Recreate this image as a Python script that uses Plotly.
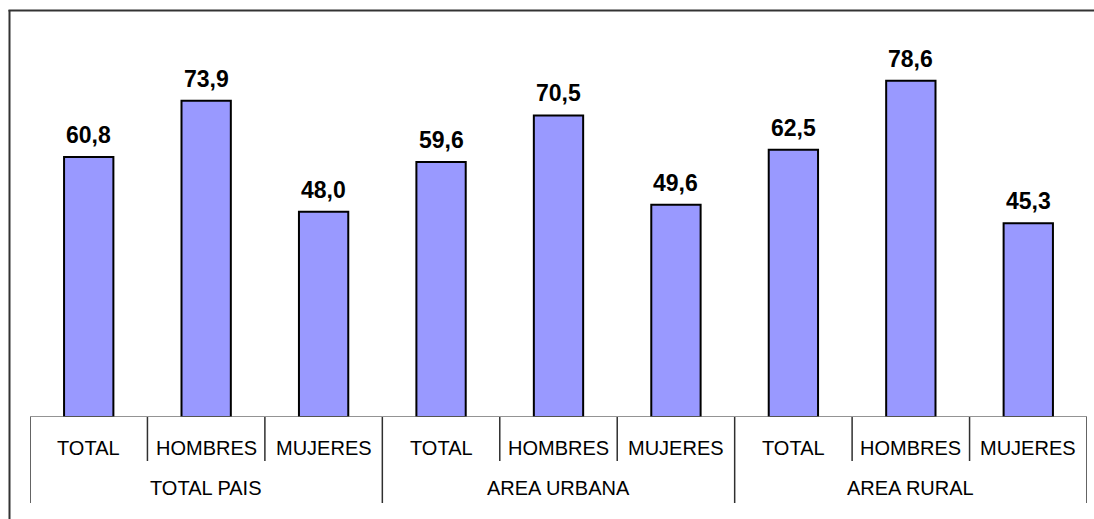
import plotly.graph_objects as go

groups = ["TOTAL PAIS", "AREA URBANA", "AREA RURAL"]
subcats = ["TOTAL", "HOMBRES", "MUJERES"]
values = [60.8, 73.9, 48.0, 59.6, 70.5, 49.6, 62.5, 78.6, 45.3]

n = len(values)
xs = list(range(n))
labels = [subcats[i % 3] for i in range(n)]

W, H = 1094, 519
L, R, T, B = 30, 7, 32, 102
pw, ph = W - L - R, H - T - B
YMAX = 90

def px_to_paper_x(px):
    return (px - L) / pw

def px_to_paper_y(py):
    return (H - B - py) / ph

fig = go.Figure()
fig.add_trace(go.Bar(
    x=xs, y=values, width=0.42,
    marker=dict(color="#9999FF", line=dict(color="black", width=2)),
    hoverinfo="skip",
))

annotations = []
for x, v in zip(xs, values):
    annotations.append(dict(
        x=x, y=v, xref="x", yref="y", text=f"{v:.1f}".replace(".", ","),
        showarrow=False, yanchor="bottom", yshift=7,
        font=dict(family="Liberation Sans, Arial", size=23, color="black", weight="bold"),
    ))
for x, lab in zip(xs, labels):
    annotations.append(dict(
        x=x, y=px_to_paper_y(448), xref="x", yref="paper", text=lab,
        showarrow=False, yanchor="middle",
        font=dict(family="Liberation Sans, Arial", size=20, color="black"),
    ))
for gi, g in enumerate(groups):
    annotations.append(dict(
        x=gi * 3 + 1, y=px_to_paper_y(488), xref="x", yref="paper", text=g,
        showarrow=False, yanchor="middle",
        font=dict(family="Liberation Sans, Arial", size=20, color="black"),
    ))

shapes = []
# baseline
shapes.append(dict(type="line", xref="x", yref="y", x0=-0.5, x1=n - 0.5, y0=0, y1=0,
                   line=dict(color="#707070", width=1.5)))
# separators
for i in range(n + 1):
    xb = i - 0.5
    if i % 3 == 0:
        yb = px_to_paper_y(503)
    else:
        yb = px_to_paper_y(461)
    shapes.append(dict(type="line", xref="x", yref="paper", x0=xb, x1=xb, y0=0, y1=yb,
                       line=dict(color="#303030", width=1.5)))
# outer border (top and left edges visible)
shapes.append(dict(type="line", xref="paper", yref="paper",
                   x0=px_to_paper_x(8.5), x1=px_to_paper_x(W),
                   y0=px_to_paper_y(10.5), y1=px_to_paper_y(10.5),
                   line=dict(color="#333333", width=2), layer="above"))
shapes.append(dict(type="line", xref="paper", yref="paper",
                   x0=px_to_paper_x(9.5), x1=px_to_paper_x(9.5),
                   y0=px_to_paper_y(10), y1=px_to_paper_y(H),
                   line=dict(color="#333333", width=2), layer="above"))

fig.update_layout(
    width=W, height=H,
    margin=dict(l=L, r=R, t=T, b=B),
    paper_bgcolor="white", plot_bgcolor="white",
    showlegend=False,
    xaxis=dict(range=[-0.5, n - 0.5], showticklabels=False, showgrid=False,
               zeroline=False, showline=False, ticks=""),
    yaxis=dict(range=[0, YMAX], showticklabels=False, showgrid=False,
               zeroline=False, showline=False, ticks=""),
    annotations=annotations,
    shapes=shapes,
)

fig.write_html("out.html", config={"displayModeBar": False},
               post_script="document.body.style.margin='0px';document.body.style.overflow='hidden';")
